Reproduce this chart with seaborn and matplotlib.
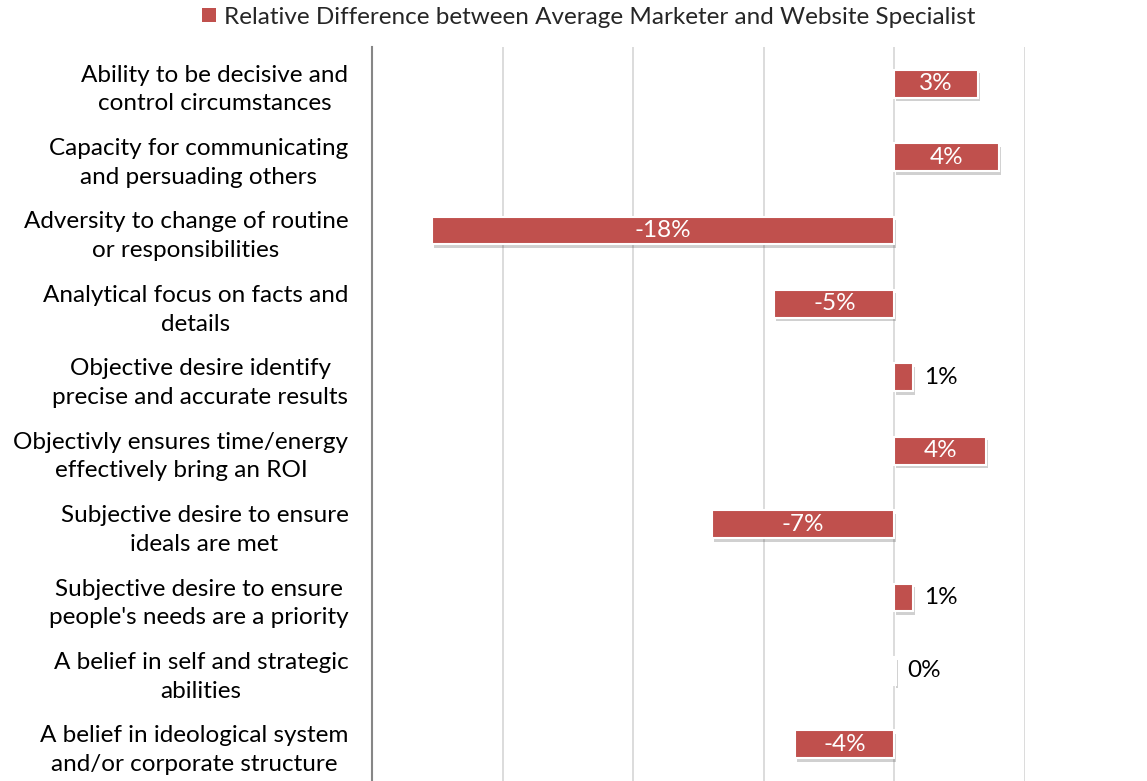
import matplotlib
matplotlib.use('Agg')
import matplotlib.pyplot as plt
import matplotlib.patheffects as pe
from matplotlib.patches import Patch
import pandas as pd
import seaborn as sns

# datos
categorias = [
    "Ability to be decisive and\ncontrol circumstances",
    "Capacity for communicating\nand persuading others",
    "Adversity to change of routine\nor responsibilities",
    "Analytical focus on facts and\ndetails",
    "Objective desire identify\nprecise and accurate results",
    "Objectivly ensures time/energy\neffectively bring an ROI",
    "Subjective desire to ensure\nideals are met",
    "Subjective desire to ensure\npeople's needs are a priority",
    "A belief in self and strategic\nabilities",
    "A belief in ideological system\nand/or corporate structure",
]
valores = [3.2, 4.0, -17.7, -4.6, 0.7, 3.5, -7.0, 0.7, 0.05, -3.8]
etiquetas = ["3%", "4%", "-18%", "-5%", "1%", "4%", "-7%", "1%", "0%", "-4%"]
serie = "Relative Difference between Average Marketer and Website Specialist"

df = pd.DataFrame({"categoria": categorias, "valor": valores})

sns.set_theme(style="white")
plt.rcParams['font.family'] = ['Lato', 'DejaVu Sans']

rojo = "#C0504D"
tam = 17.5
fig = plt.figure(figsize=(11.47, 7.81), dpi=100)
ax = fig.add_axes([372 / 1147, 0.0, (1025 - 372) / 1147, 1 - 47 / 781])

sns.barplot(data=df, y="categoria", x="valor", orient="h", color=rojo,
            width=0.38, saturation=1, ax=ax, zorder=3)

sombra = [pe.SimplePatchShadow(offset=(1.5, -2.5), alpha=0.25, shadow_rgbFace="#444444"),
          pe.Normal()]
for barra, v in zip(ax.patches, valores):
    barra.set_edgecolor("white")
    barra.set_linewidth(1.5)
    barra.set_path_effects(sombra)
    if abs(v) < 0.3:
        barra.set_facecolor("white")

for i, (v, txt) in enumerate(zip(valores, etiquetas)):
    if abs(v) >= 2:
        ax.text(v / 2, i, txt, ha="center", va="center", color="white", fontsize=tam, zorder=5)
    else:
        ax.text(max(v, 0) + 0.45, i, txt, ha="left", va="center", color="black", fontsize=tam, zorder=5)

ax.set_xlim(-20, 5)
ax.set_ylim(9.5, -0.5)
ax.set_xticks([-20, -15, -10, -5, 0, 5])
ax.set_xticklabels([])
ax.xaxis.grid(True, color="#D9D9D9", linewidth=1.3, zorder=0)
ax.set_axisbelow(True)
ax.set_xlabel("")
ax.set_ylabel("")
ax.tick_params(axis="y", length=0, pad=17, labelsize=tam, labelcolor="black")
ax.tick_params(axis="x", length=0)
for lbl in ax.get_yticklabels():
    lbl.set_multialignment("center")
    lbl.set_linespacing(1.45)

for lado in ["top", "right", "bottom"]:
    ax.spines[lado].set_visible(False)
ax.spines["left"].set_color("#868686")
ax.spines["left"].set_linewidth(1.5)

fig.legend(handles=[Patch(facecolor=rojo, edgecolor="none")], labels=[serie],
           loc="center", bbox_to_anchor=(589 / 1147, 1 - 17 / 781), frameon=False,
           fontsize=tam, handlelength=0.55, handleheight=0.55, handletextpad=0.35)

fig.savefig("out.png", dpi=100)
